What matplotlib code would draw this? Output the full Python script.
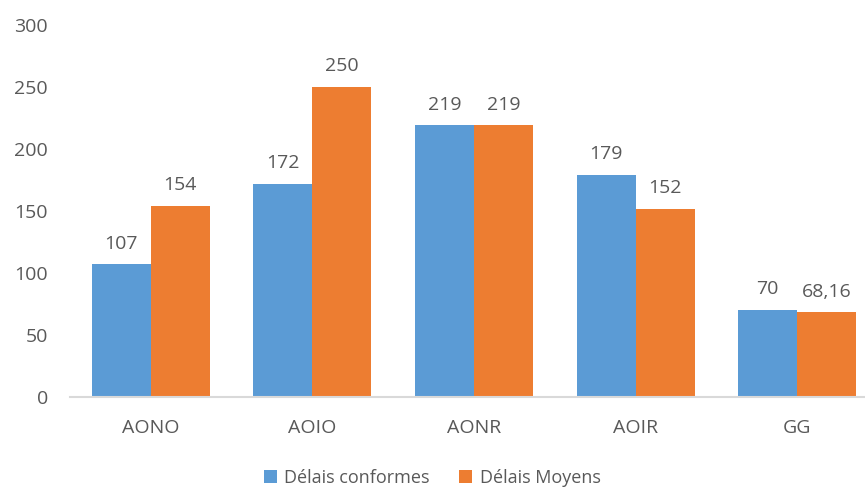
import numpy as np
from matplotlib import pyplot as plt

categories = ["AONO", "AOIO", "AONR", "AOIR", "GG"]
conformes = [107, 172, 219, 179, 70]
moyens = [154, 250, 219, 152, 68.16]
labels = ["Délais conformes", "Délais Moyens"]
colors = ["#5B9BD5", "#ED7D31"]

plt.rcParams['font.family'] = ['Open Sans', 'DejaVu Sans']
text_color = "#595959"
fs = 14

fig = plt.figure(figsize=(8.65, 4.9), dpi=100)
ax = fig.add_axes([70 / 865, 93 / 490, 795 / 865, 372 / 490])

X = np.arange(len(categories))
w = 0.365
b1 = ax.bar(X - w / 2, conformes, w, color=colors[0], label=labels[0])
b2 = ax.bar(X + w / 2, moyens, w, color=colors[1], label=labels[1])

def fmt(v):
    if float(v).is_integer():
        return str(int(v))
    return str(v).replace(".", ",")

for bars, vals in [(b1, conformes), (b2, moyens)]:
    for rect, v in zip(bars, vals):
        ax.annotate(fmt(v), (rect.get_x() + rect.get_width() / 2, v),
                    xytext=(0, 8.5), textcoords="offset points",
                    ha="center", va="bottom", fontsize=fs, color=text_color)

ax.set_ylim(0, 300)
ax.set_xlim(-0.5, 4.42)
ax.set_yticks(range(0, 301, 50))
ax.set_xticks(X)
ax.set_xticklabels(categories)
ax.tick_params(axis="both", length=0, labelsize=fs, colors=text_color)
ax.tick_params(axis="x", pad=16)
ax.tick_params(axis="y", pad=16)
for s in ["top", "right", "left"]:
    ax.spines[s].set_visible(False)
ax.spines["bottom"].set_color("#D9D9D9")
ax.spines["bottom"].set_linewidth(1.5)

fig.legend(loc="center", bbox_to_anchor=(432 / 865, 1 - 478 / 490), ncol=2,
           frameon=False, fontsize=13, labelcolor=text_color,
           handlelength=0.75, handleheight=0.75, handletextpad=0.4, columnspacing=1.6)

plt.savefig("out.png")
